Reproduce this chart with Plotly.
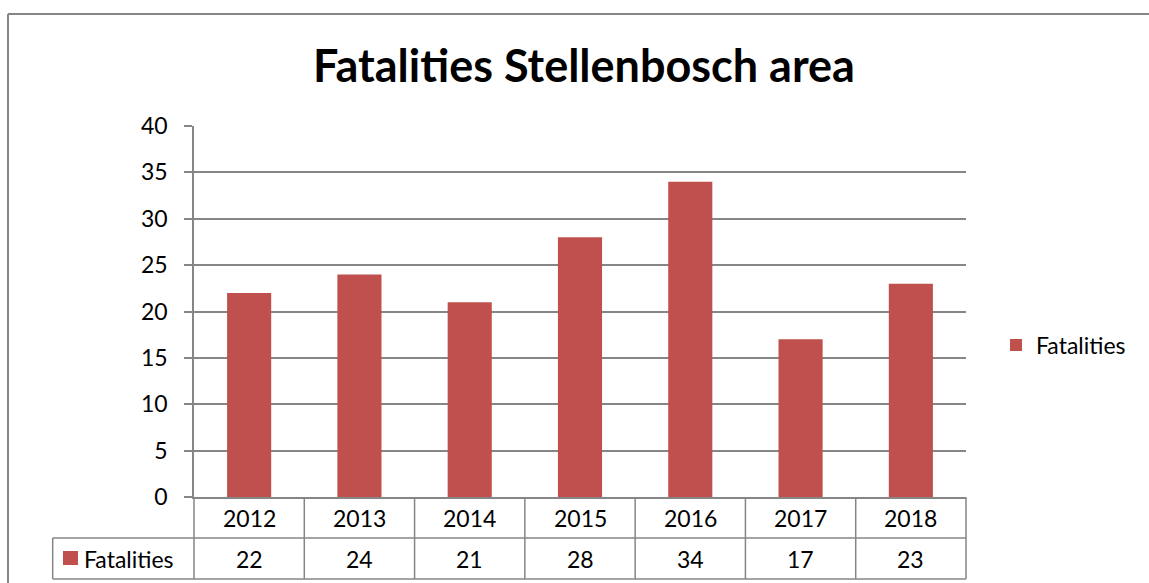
import plotly.graph_objects as go

title = "Fatalities Stellenbosch area"
years = ["2012", "2013", "2014", "2015", "2016", "2017", "2018"]
fatalities = [22, 24, 21, 28, 34, 17, 23]
series_name = "Fatalities"
y_ticks = [0, 5, 10, 15, 20, 25, 30, 35, 40]

W, H = 1149, 583
L, R, T, B = 194, 183, 126, 86
PW, PH = W - L - R, H - T - B
BAR = "#C0504D"
GRID = "#868686"
FONT = "Lato"


def px(x):
    return (x - L) / PW


def py(y):
    return (H - B - y) / PH


fig = go.Figure()
fig.add_trace(go.Bar(x=years, y=fatalities, name=series_name, marker_color=BAR,
                     width=0.4, marker_line_width=0))

n = len(years)
row1_top, row1_bot, row2_bot = H - B, 538, 579
left_col = 52.7
shapes = []
line = dict(color=GRID, width=1.5)
# horizontal table lines
shapes.append(dict(type="line", xref="paper", yref="paper", x0=px(left_col), x1=1,
                   y0=py(row1_bot), y1=py(row1_bot), line=line))
shapes.append(dict(type="line", xref="paper", yref="paper", x0=px(left_col), x1=1,
                   y0=py(row2_bot), y1=py(row2_bot), line=line))
# vertical table lines
for i in range(n + 1):
    shapes.append(dict(type="line", xref="paper", yref="paper", x0=i / n, x1=i / n,
                       y0=0, y1=py(row2_bot), line=line))
shapes.append(dict(type="line", xref="paper", yref="paper", x0=px(left_col), x1=px(left_col),
                   y0=py(row1_bot), y1=py(row2_bot), line=line))
# legend key inside table
shapes.append(dict(type="rect", xref="paper", yref="paper", x0=px(63), x1=px(78),
                   y0=py(565), y1=py(551), fillcolor=BAR, line_width=0))
# outer chart border
border = dict(color=GRID, width=2)
shapes.append(dict(type="line", xref="paper", yref="paper", x0=px(8), x1=px(W + 5),
                   y0=py(14), y1=py(14), line=border))
shapes.append(dict(type="line", xref="paper", yref="paper", x0=px(8), x1=px(8),
                   y0=py(14), y1=py(H + 5), line=border))

annotations = []
tf = dict(family=FONT, size=23, color="black")
for i, (yr, v) in enumerate(zip(years, fatalities)):
    annotations.append(dict(x=(i + 0.5) / n, y=py((row1_top + row1_bot) / 2), xref="paper", yref="paper",
                            text=yr, showarrow=False, font=tf, xanchor="center", yanchor="middle"))
    annotations.append(dict(x=(i + 0.5) / n, y=py((row1_bot + row2_bot) / 2), xref="paper", yref="paper",
                            text=str(v), showarrow=False, font=tf, xanchor="center", yanchor="middle"))
annotations.append(dict(x=px(82), y=py((row1_bot + row2_bot) / 2), xref="paper", yref="paper",
                        text=series_name, showarrow=False, font=tf, xanchor="left", yanchor="middle"))

fig.update_layout(
    width=W, height=H,
    margin=dict(l=L, r=R, t=T, b=B, pad=0),
    paper_bgcolor="white", plot_bgcolor="white",
    title=dict(text="<b>" + title + "</b>", x=0.5 * (px(315) + px(853)), xref="paper",
               xanchor="center", y=(H - 66) / H, yanchor="middle",
               font=dict(family=FONT, size=45, color="black")),
    font=dict(family=FONT, size=23, color="black"),
    showlegend=True,
    legend=dict(x=px(996), y=py(345), xref="paper", yref="paper", xanchor="left", yanchor="middle",
                font=dict(family=FONT, size=23, color="black"), bgcolor="rgba(0,0,0,0)"),
    bargap=0.6,
    xaxis=dict(showticklabels=False, ticks="", showgrid=False, showline=True, linecolor=GRID,
               linewidth=1.5, zeroline=False, fixedrange=True),
    yaxis=dict(range=[0, 40], tickvals=y_ticks, showgrid=True, gridcolor=GRID, gridwidth=1.5,
               ticks="outside", ticklen=8, tickcolor=GRID, tickwidth=1.5, showline=True,
               linecolor=GRID, linewidth=1.5, zeroline=False, ticklabelstandoff=12,
               tickfont=dict(family=FONT, size=23, color="black")),
    shapes=shapes, annotations=annotations,
)

fig.write_html("out.html", config={"displayModeBar": False},
               post_script="document.body.style.margin='0';document.body.style.overflow='hidden';")
